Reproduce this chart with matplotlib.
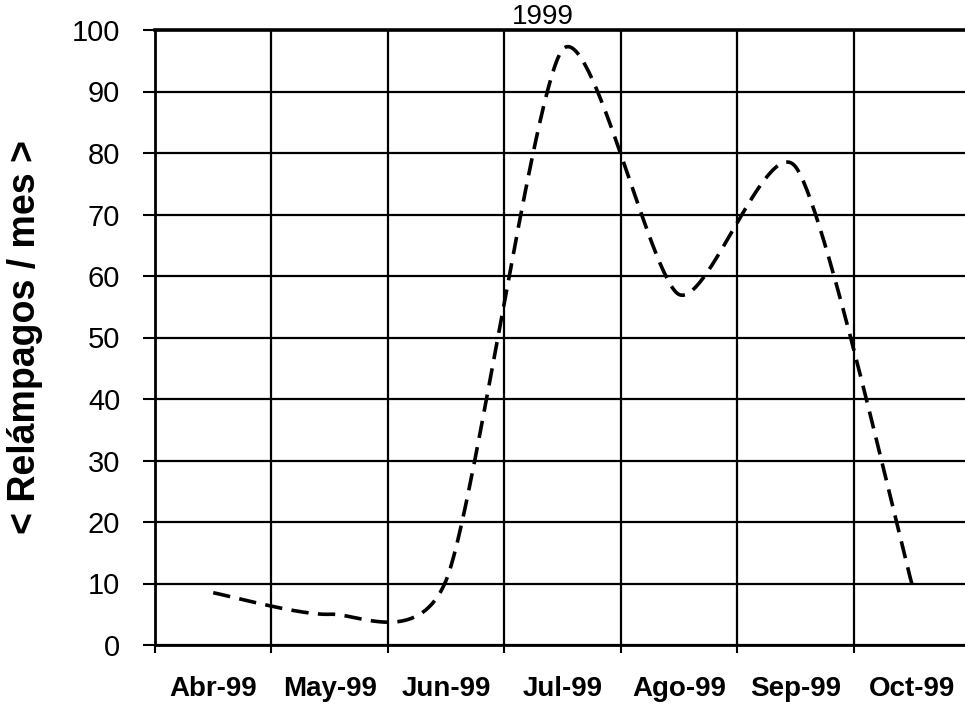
import numpy as np
import matplotlib
matplotlib.use("Agg")
import matplotlib.pyplot as plt

# monthly lightning counts
months = ["Abr-99", "May-99", "Jun-99", "Jul-99", "Ago-99", "Sep-99", "Oct-99"]
flashes = [8.5, 5.0, 10.5, 96.8, 57.0, 77.8, 10.0]

plt.rcParams["font.family"] = ["Liberation Sans", "DejaVu Sans"]

# smoothed line like the spreadsheet one (cardinal spline drawn as bezier)
def smooth(xs, ys, k=0.12, n=60):
    p = np.column_stack([xs, ys]).astype(float)
    p = np.vstack([p[0], p, p[-1]])
    out = []
    for i in range(1, len(p) - 2):
        p0, p1, p2, p3 = p[i - 1], p[i], p[i + 1], p[i + 2]
        c1 = p1 + (p2 - p0) * k
        c2 = p2 - (p3 - p1) * k
        t = np.linspace(0, 1, n)[:, None]
        seg = ((1 - t) ** 3) * p1 + 3 * ((1 - t) ** 2) * t * c1 + 3 * (1 - t) * t ** 2 * c2 + t ** 3 * p2
        out.append(seg)
    out = np.vstack(out)
    return out[:, 0], out[:, 1]

fig = plt.figure(figsize=(9.65, 7.05), dpi=100)
ax = fig.add_axes([155 / 965, 60 / 705, 815 / 965, 615 / 705])

x = np.arange(len(months))
sx, sy = smooth(x, flashes)
ax.plot(sx, sy, color="black", lw=2.6, linestyle=(0, (4.8, 2.6)), zorder=3)

ax.set_xlim(-0.5, len(months) - 0.5)
ax.set_ylim(0, 100)

# gridlines sit on the category boundaries, labels in between
ax.set_xticks(np.arange(len(months)) - 0.5)
ax.set_xticklabels([])
ax.set_xticks(x, minor=True)
ax.set_xticklabels(months, minor=True, fontsize=20, fontweight="bold")
ax.tick_params(axis="x", which="minor", length=0, pad=22)
ax.tick_params(axis="x", which="major", direction="out", length=6, width=1.5)
ax.set_yticks(np.arange(0, 101, 10))
ax.tick_params(axis="y", direction="out", length=9, width=1.5, pad=16, labelsize=21)

ax.grid(True, which="major", color="black", lw=1.6)
ax.spines["right"].set_visible(False)
for s in ["left", "bottom"]:
    ax.spines[s].set_linewidth(2.0)
ax.spines["top"].set_linewidth(2.6)

ax.set_ylabel("< Relámpagos / mes >", fontsize=27, fontweight="bold")
ax.yaxis.set_label_coords((43 - 155) / 815, 0.5)

# the scan cuts the title off at the top; keep it just inside the frame
fig.text(543 / 965, (705 - 24) / 705, "1999", fontsize=20, ha="center", va="baseline")

fig.savefig("out.png", dpi=100)
